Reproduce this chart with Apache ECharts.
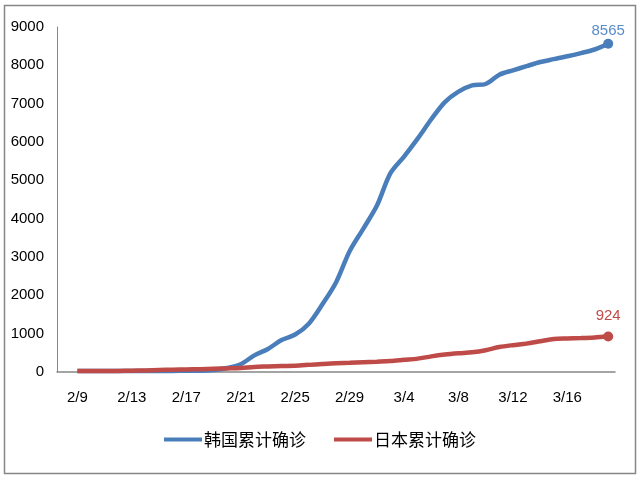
<!DOCTYPE html>
<html>
<head>
<meta charset="utf-8">
<script src="https://cdn.jsdelivr.net/npm/echarts@6/dist/echarts.min.js"></script>
<style>html,body{margin:0;padding:0;background:#fff}#c{width:640px;height:480px}</style>
</head>
<body>
<div id="c"></div>
<script>
const categories = ['2/8','2/9','2/10','2/11','2/12','2/13','2/14','2/15','2/16','2/17','2/18','2/19','2/20','2/21','2/22','2/23','2/24','2/25','2/26','2/27','2/28','2/29','3/1','3/2','3/3','3/4','3/5','3/6','3/7','3/8','3/9','3/10','3/11','3/12','3/13','3/14','3/15','3/16','3/17','3/18','3/19'];
const korea = [null,27,27,28,28,28,28,28,29,30,31,51,104,204,433,602,833,977,1261,1766,2337,3150,3736,4335,5186,5621,6088,6593,7041,7314,7478,7513,7755,7869,7979,8086,8162,8236,8320,8413,8565];
const japan = [null,26,26,28,29,33,41,53,59,66,73,84,93,105,132,144,156,164,186,210,230,239,254,268,284,317,349,408,455,488,514,568,650,700,740,800,860,875,885,900,924];
const seriesNames = ['韩国累计确诊','日本累计确诊'];
const yTicks = {min:0, max:9000, interval:1000};

const blue = '#4a7ebb', red = '#be4b48';
function withEnd(arr, color, dist) {
  const last = arr.length - 1;
  return arr.map((v, i) => i === last ? {
    value: v,
    label: {show: true, position: 'top', distance: dist, color: color, fontSize: 15, fontFamily: 'Liberation Sans'}
  } : v);
}
function endSize(n) {
  return (val, params) => params.dataIndex === n - 1 ? 10 : 0;
}
const chart = echarts.init(document.getElementById('c'), null, {renderer: 'canvas'});
chart.setOption({
  animation: false,
  backgroundColor: '#fff',
  graphic: [{type: 'rect', shape: {x: 4.5, y: 5.5, width: 631, height: 468}, style: {fill: 'none', stroke: '#868686', lineWidth: 1.5}}],
  grid: {left: 57, right: 25, top: 27, bottom: 108},
  legend: {
    bottom: 27, left: 'center',
    itemWidth: 38, itemHeight: 4, itemGap: 28,
    icon: 'rect',
    textStyle: {fontSize: 17, color: '#000', fontFamily: 'Noto Sans CJK SC', padding: [0,0,0,-3]},
    data: seriesNames
  },
  xAxis: {
    type: 'category', data: categories, boundaryGap: true,
    axisLine: {lineStyle: {color: '#868686', width: 1.5}},
    axisTick: {show: false},
    axisLabel: {
      interval: (i) => i % 4 === 1, margin: 18, fontSize: 15, color: '#000', fontFamily: 'Liberation Sans'
    }
  },
  yAxis: {
    type: 'value', min: yTicks.min, max: yTicks.max, interval: yTicks.interval,
    axisLine: {show: true, lineStyle: {color: '#868686', width: 1}},
    axisTick: {show: false},
    splitLine: {show: false},
    axisLabel: {margin: 13, fontSize: 15, color: '#000', fontFamily: 'Liberation Sans', formatter: (v) => String(v)}
  },
  series: [
    {name: seriesNames[0], type: 'line', smooth: 0.3, data: withEnd(korea, '#5a8ccb', 0),
     symbol: 'circle', symbolSize: endSize(korea.length), showSymbol: true, showAllSymbol: true,
     color: blue, lineStyle: {width: 4.5, color: blue}, itemStyle: {color: blue}, z: 3},
    {name: seriesNames[1], type: 'line', smooth: 0.3, data: withEnd(japan, red, 8),
     symbol: 'circle', symbolSize: endSize(japan.length), showSymbol: true, showAllSymbol: true,
     color: red, lineStyle: {width: 4.5, color: red}, itemStyle: {color: red}, z: 4}
  ]
});
</script>
</body>
</html>
